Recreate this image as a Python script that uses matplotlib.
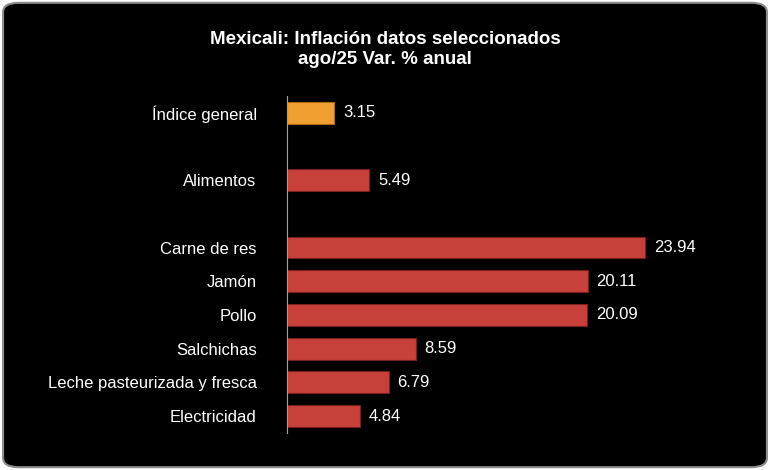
import matplotlib
matplotlib.use("Agg")
import matplotlib.pyplot as plt
from matplotlib.patches import FancyBboxPatch

categories = ["Índice general", "", "Alimentos", "", "Carne de res", "Jamón", "Pollo",
              "Salchichas", "Leche pasteurizada y fresca", "Electricidad"]
values = [3.15, None, 5.49, None, 23.94, 20.11, 20.09, 8.59, 6.79, 4.84]
title = "Mexicali: Inflación datos seleccionados\nago/25 Var. % anual"

plt.rcParams["font.family"] = "Liberation Sans"
fig = plt.figure(figsize=(7.7, 4.7), dpi=100, facecolor="white")
bg = FancyBboxPatch((0.004, 0.006), 0.992, 0.988, boxstyle="round,pad=0,rounding_size=0.02",
                    transform=fig.transFigure, facecolor="black", edgecolor="#8c8c8c",
                    linewidth=1.5, zorder=-10)
fig.patches.append(bg)

ax = fig.add_axes([0.373, 0.079, 0.582, 0.717])
ax.set_facecolor("none")
ax.set_zorder(5)
for i, (c, v) in enumerate(zip(categories, values)):
    if v is None:
        continue
    col = "#f0a030" if i == 0 else "#c8403a"
    ax.barh(i, v, height=0.65, color=col, edgecolor="#7a1f1a" if i else "#b06a10", linewidth=0.8)
    ax.text(v + 0.6, i, f"{v:.2f}", va="center", ha="left", color="white", fontsize=12)
ax.set_ylim(9.5, -0.5)
ax.set_xlim(0, 30)
ax.set_yticks([i for i, c in enumerate(categories) if c])
ax.set_yticklabels([c for c in categories if c], color="white", fontsize=12)
ax.tick_params(axis="y", length=0, pad=22)
ax.set_xticks([])
for s in ["top", "right", "bottom"]:
    ax.spines[s].set_visible(False)
ax.spines["left"].set_color("#a0a0a0")
ax.spines["left"].set_linewidth(0.8)

fig.text(0.5, 0.895, title, ha="center", va="center", color="white", fontsize=13.5,
         fontweight="bold", linespacing=1.25, zorder=6)
fig.savefig("out.png", dpi=100, facecolor="white")
